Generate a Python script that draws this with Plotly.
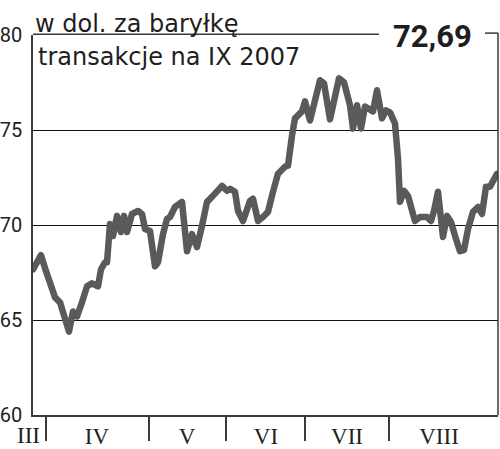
import plotly.graph_objects as go

# positions along the time axis (trading-session position units) and prices
positions = [0, 8, 13, 18, 22, 27, 31, 36, 40, 44, 49, 54, 59, 65, 68, 72, 74, 77, 80, 84, 88, 91,
             94, 99, 105, 109, 112, 117, 122, 125, 130, 134, 137, 142, 149, 154, 159, 164, 169,
             174, 179, 184, 189, 194, 197, 202, 205, 210, 217, 220, 225, 230, 235, 240, 245, 252,
             255, 259, 262, 269, 272, 277, 282, 287, 291, 297, 306, 311, 317, 320, 324, 328, 332,
             336, 340, 344, 349, 353, 357, 362, 365, 367, 371, 375, 382, 387, 394, 398, 401, 405,
             410, 414, 418, 423, 427, 431, 435, 440, 445, 449, 453, 457, 461, 464]
prices = [67.67, 68.41, 67.57, 66.77, 66.19, 65.93, 65.24, 64.39, 65.45, 65.19, 65.93, 66.77,
          66.93, 66.77, 67.67, 68.04, 68.04, 70.05, 69.42, 70.48, 69.63, 70.48, 69.63, 70.58,
          70.74, 70.58, 69.79, 69.68, 67.83, 68.04, 69.52, 70.32, 70.42, 70.95, 71.22, 68.62,
          69.52, 68.84, 69.95, 71.22, 71.48, 71.75, 72.06, 71.80, 71.90, 71.75, 70.74, 70.21,
          71.27, 71.38, 70.21, 70.42, 70.69, 71.75, 72.70, 73.07, 73.12, 74.71, 75.61, 75.98,
          76.51, 75.50, 76.56, 77.62, 77.46, 75.56, 77.72, 77.51, 76.30, 75.08, 76.30, 75.08,
          76.24, 76.14, 75.98, 77.09, 75.61, 76.03, 75.93, 75.34, 73.49, 71.22, 71.80, 71.53,
          70.21, 70.42, 70.42, 70.21, 70.74, 71.75, 69.37, 70.48, 70.16, 69.26, 68.62, 68.68,
          69.79, 70.69, 70.95, 70.58, 72.01, 72.01, 72.43, 72.69]

month_bounds = [13, 116, 193, 272, 356]
month_label_pos = [64, 154, 233, 314, 406]
month_labels = ["IV", "V", "VI", "VII", "VIII"]
first_month_label = "III"
y_ticks = [60, 65, 70, 75, 80]
grid_vals = [65, 70, 75]
last_value_text = "72,69"
title1 = "w dol. za baryłkę"
title2 = "transakcje na IX 2007"

frame_col = "#3a3a3a"
fig = go.Figure()
fig.add_trace(go.Scatter(x=positions, y=prices, mode="lines",
                         line=dict(color="#5a5a5a", width=6.5), hoverinfo="skip"))

fig.update_layout(
    width=500, height=449,
    margin=dict(l=33, r=2, t=35, b=34, autoexpand=False),
    paper_bgcolor="white", plot_bgcolor="white",
    showlegend=False,
    font=dict(family="Roboto", color="#222222"),
    xaxis=dict(range=[0, 465], showgrid=False, zeroline=False, automargin=False,
               showline=True, linecolor=frame_col, linewidth=1.5,
               tickmode="array", tickvals=month_label_pos, ticktext=month_labels,
               ticks="", ticklabelstandoff=0,
               tickfont=dict(family="Liberation Serif", size=23, color="#222222"),
               minor=dict(tickmode="array", tickvals=month_bounds, ticks="outside",
                          ticklen=24, tickwidth=1.5, tickcolor=frame_col, showgrid=False)),
    yaxis=dict(range=[60, 80], showgrid=False, zeroline=False, automargin=False,
               showline=True, linecolor=frame_col, linewidth=1.5,
               tickmode="array", tickvals=y_ticks, ticks="", ticklabelstandoff=5,
               tickfont=dict(family="Roboto", size=20, color="#222222"),
               minor=dict(tickmode="array", tickvals=grid_vals, showgrid=True,
                          gridcolor="#111111", gridwidth=1.4, ticks="")),
)

# frame: right side and top with gap for the last value
fig.add_shape(type="line", xref="x domain", yref="y domain", x0=1, x1=1, y0=0, y1=1.005,
              line=dict(color=frame_col, width=1.5))
fig.add_shape(type="line", xref="x domain", yref="y domain", x0=0, x1=0.744, y0=1.002, y1=1.002,
              line=dict(color=frame_col, width=1.5))
fig.add_shape(type="line", xref="x domain", yref="y domain", x0=0.972, x1=1, y0=1.005, y1=1.005,
              line=dict(color=frame_col, width=1.5))

fig.add_annotation(text=first_month_label, xref="x domain", yref="y domain",
                   x=-5 / 465, y=0, yshift=-20, showarrow=False, xanchor="center", yanchor="middle",
                   font=dict(family="Liberation Serif", size=23, color="#222222"))
fig.add_annotation(text=title1, xref="x domain", yref="y domain", x=0.0, y=1.030,
                   xanchor="left", yanchor="middle", showarrow=False,
                   font=dict(family="DejaVu Sans", size=24, color="#1e1e1e"))
fig.add_annotation(text=title2, xref="x domain", yref="y domain", x=0.007, y=0.942,
                   xanchor="left", yanchor="middle", showarrow=False,
                   font=dict(family="DejaVu Sans", size=24, color="#1e1e1e"))
fig.add_annotation(text="<b>" + last_value_text + "</b>", xref="x domain", yref="y domain",
                   x=0.859, y=0.997, xanchor="center", yanchor="middle", showarrow=False,
                   font=dict(family="Roboto", size=31, color="#1e1e1e"))

fig.write_html("out.html", config={"displayModeBar": False},
               post_script="document.body.style.margin='0';document.querySelectorAll('.scatterlayer path.js-line').forEach(function(p){p.style.strokeLinejoin='round';p.style.strokeLinecap='round';});")
